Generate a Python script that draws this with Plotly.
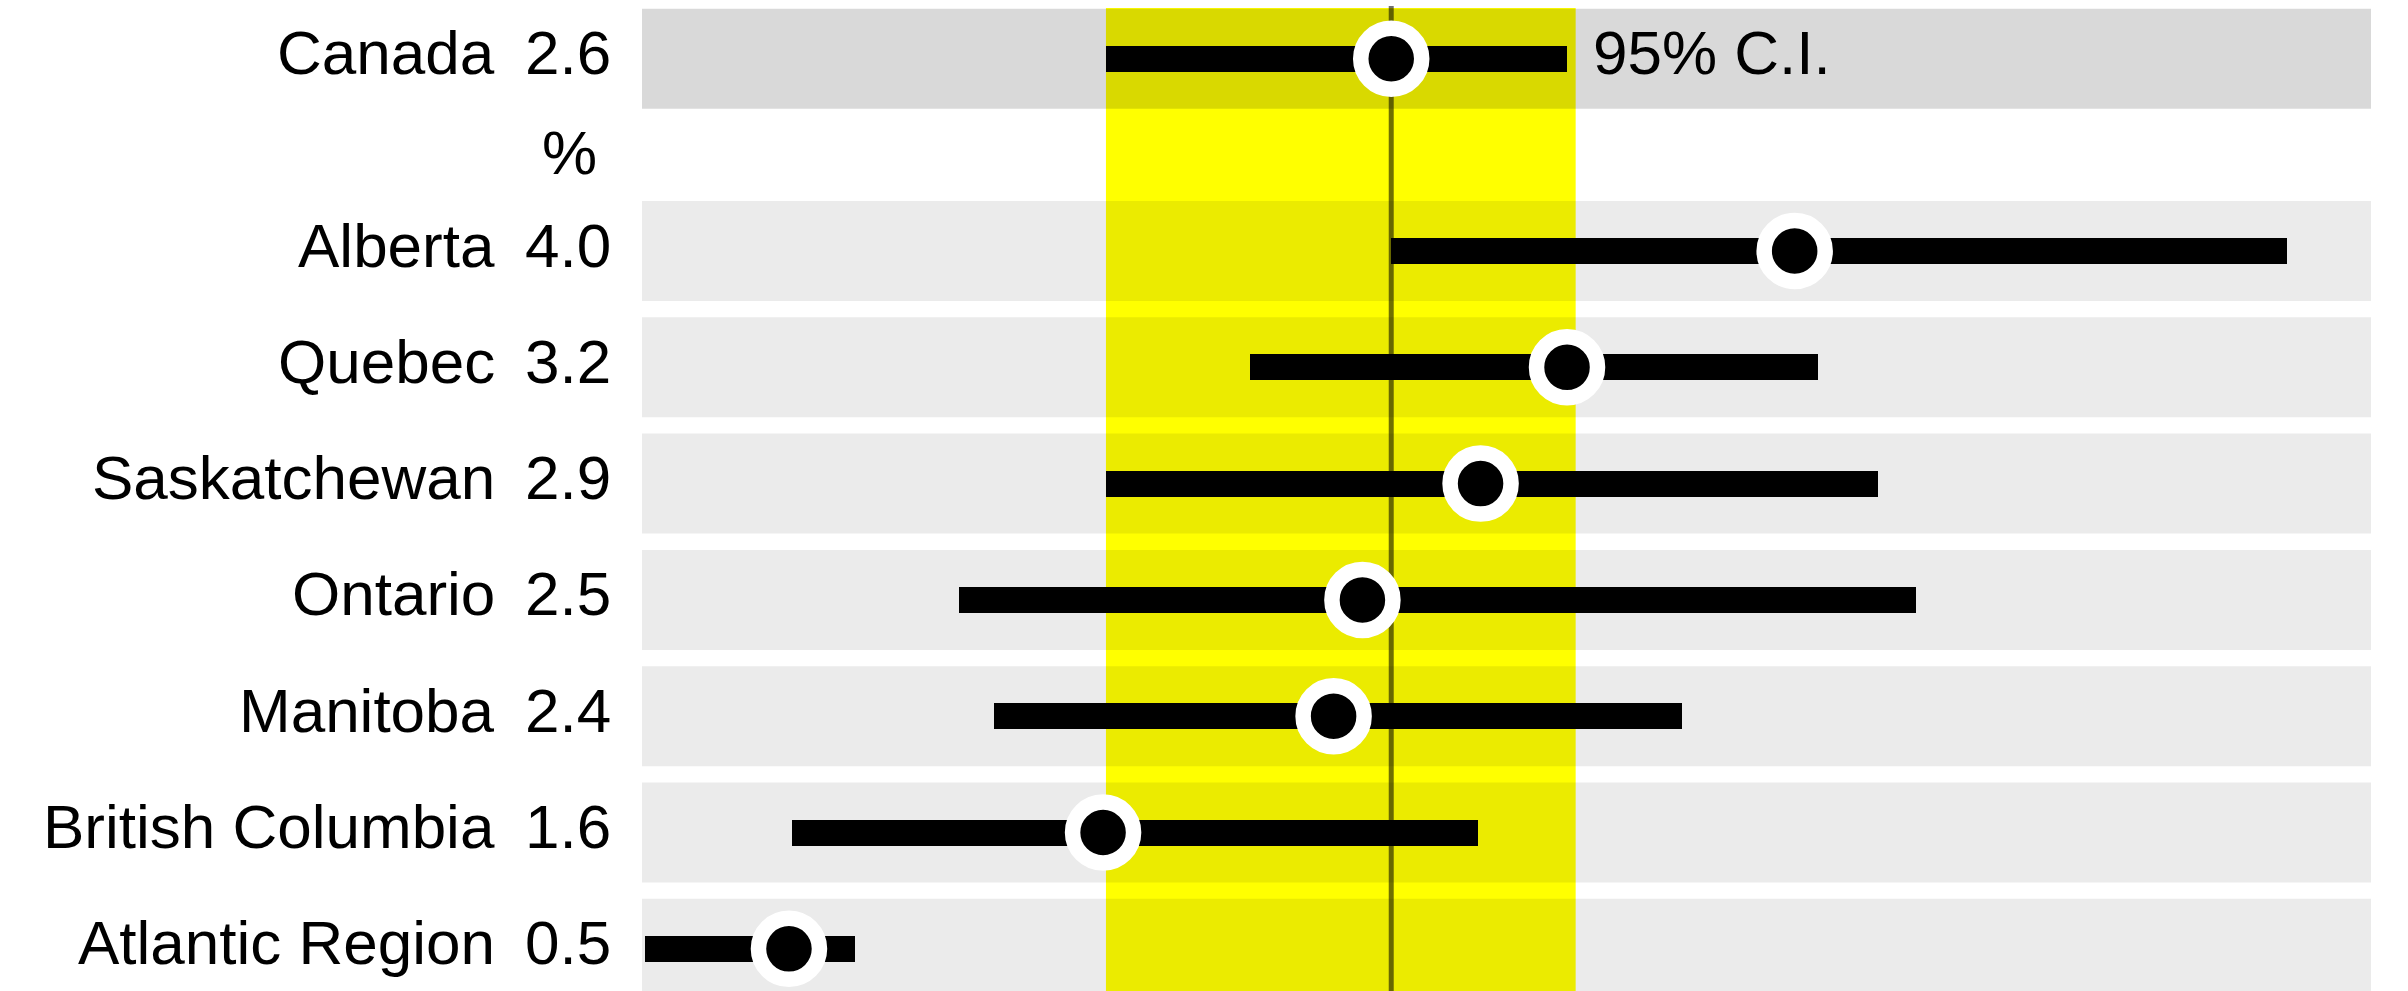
import plotly.graph_objects as go

# ---------------- data ----------------
regions = ["Alberta", "Quebec", "Saskatchewan", "Ontario", "Manitoba",
           "British Columbia", "Atlantic Region"]
estimates = [4.00, 3.21, 2.91, 2.50, 2.40, 1.60, 0.51]
ci_low = [2.60, 2.11, 1.61, 1.10, 1.22, 0.52, 0.01]
ci_high = [5.71, 4.08, 4.29, 4.42, 3.61, 2.90, 0.74]

national_label = "Canada"
national_estimate = 2.60
national_ci_low = 1.61
national_ci_high = 3.21
national_band = [1.61, 3.24]
ci_label = "95% C.I."
unit_label = "%"
x_range = [0, 6]

# ---------------- layout constants ----------------
W, H = 2408, 991
PLOT_L, PLOT_R = 642, 2371
ROW_PX = 116.3          # pixel distance between province rows
FIRST_ROW_PX = 251      # pixel centre of first province row
NATIONAL_OFFSET = -1.653  # national row position in row units
PANEL_HALF = 0.43
BAR_W = 0.2236
NAME_RIGHT = 497
VALUE_RIGHT = 613
FONT = "Liberation Sans, Arial, Helvetica, sans-serif"
FSIZE = 62
TEXT_SHIFT = 6

rows = list(range(len(regions)))
y_top = -FIRST_ROW_PX / ROW_PX
y_bot = (H - FIRST_ROW_PX) / ROW_PX

all_names = [national_label] + regions
all_rows = [NATIONAL_OFFSET] + rows
all_est = [national_estimate] + estimates
all_lo = [national_ci_low] + ci_low
all_hi = [national_ci_high] + ci_high

fig = go.Figure()

# CI bars
fig.add_trace(go.Bar(
    orientation="h",
    y=all_rows,
    base=all_lo,
    x=[h - l for h, l in zip(all_hi, all_lo)],
    width=BAR_W,
    marker=dict(color="black", line=dict(width=0)),
    hoverinfo="skip",
    showlegend=False,
))

# point estimates
fig.add_trace(go.Scatter(
    x=all_est,
    y=all_rows,
    mode="markers",
    marker=dict(size=61, color="black", line=dict(color="white", width=15.5)),
    hoverinfo="skip",
    showlegend=False,
))

shapes = []
# yellow national CI band
shapes.append(dict(type="rect", xref="x", yref="y domain",
                   x0=national_band[0], x1=national_band[1],
                   y0=0, y1=1 - 8 / H,
                   fillcolor="#ffff00", line=dict(width=0), layer="below"))
# row panels
for i, r in enumerate(all_rows):
    col = "rgba(0,0,0,0.149)" if i == 0 else "rgba(0,0,0,0.078)"
    shapes.append(dict(type="rect", xref="x domain", yref="y",
                       x0=0, x1=1, y0=r - PANEL_HALF, y1=r + PANEL_HALF,
                       fillcolor=col, line=dict(width=0), layer="below"))
# national estimate reference line
shapes.append(dict(type="line", xref="x", yref="y domain",
                   x0=national_estimate, x1=national_estimate,
                   y0=0, y1=1 - 6 / H,
                   line=dict(color="rgba(0,0,0,0.56)", width=5), layer="below"))

annotations = []
for name, r, v in zip(all_names, all_rows, all_est):
    annotations.append(dict(text=name, x=NAME_RIGHT / W, xref="paper",
                            y=r, yref="y", xanchor="right", yanchor="middle",
                            showarrow=False, yshift=TEXT_SHIFT,
                            font=dict(family=FONT, size=FSIZE, color="black")))
    annotations.append(dict(text=f"{v:.1f}", x=VALUE_RIGHT / W, xref="paper",
                            y=r, yref="y", xanchor="right", yanchor="middle",
                            showarrow=False, yshift=TEXT_SHIFT,
                            font=dict(family=FONT, size=FSIZE, color="black")))
# unit label centred over the value column
annotations.append(dict(text=unit_label, x=569 / W, xref="paper",
                        y=NATIONAL_OFFSET / 2, yref="y", xanchor="center",
                        yanchor="middle", showarrow=False, yshift=2,
                        font=dict(family=FONT, size=FSIZE, color="black")))
# CI label
annotations.append(dict(text=ci_label, x=national_ci_high, xref="x",
                        y=NATIONAL_OFFSET, yref="y", xanchor="left",
                        yanchor="middle", showarrow=False, xshift=24,
                        yshift=TEXT_SHIFT,
                        font=dict(family=FONT, size=FSIZE, color="black")))

fig.update_layout(
    width=W, height=H,
    margin=dict(l=0, r=0, t=0, b=0, pad=0),
    paper_bgcolor="white", plot_bgcolor="rgba(0,0,0,0)",
    shapes=shapes, annotations=annotations,
    showlegend=False,
    xaxis=dict(domain=[PLOT_L / W, PLOT_R / W], range=x_range, visible=False,
               showgrid=False, zeroline=False, fixedrange=True),
    yaxis=dict(domain=[0, 1], range=[y_bot, y_top], visible=False,
               showgrid=False, zeroline=False, fixedrange=True),
    bargap=0,
)

fig.write_html("out.html", config={"displayModeBar": False},
               post_script="document.body.style.margin='0';document.body.style.overflow='hidden';")
